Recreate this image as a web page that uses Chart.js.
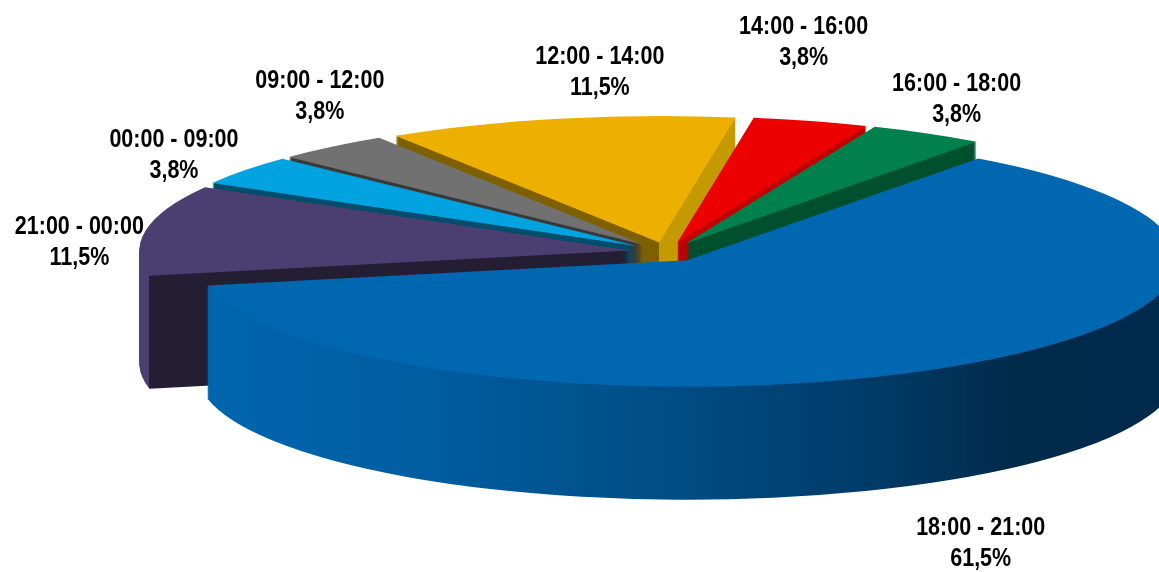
<!DOCTYPE html>
<html>
<head>
<meta charset="utf-8">
<title>Horários</title>
<script src="https://cdn.jsdelivr.net/npm/chart.js@4"></script>
<style>
  html, body { margin: 0; padding: 0; background: #fff; overflow: hidden; }
  canvas { display: block; }
</style>
</head>
<body>
<canvas id="pie" width="1159" height="572"></canvas>
<script>
const categories = ['00:00 - 09:00', '09:00 - 12:00', '12:00 - 14:00', '14:00 - 16:00', '16:00 - 18:00', '18:00 - 21:00', '21:00 - 00:00'];
const shares = [3.8, 3.8, 11.5, 3.8, 3.8, 61.5, 11.5];
const topColors = ['#00A2E0', '#717171', '#EDB000', '#EC0000', '#00804C', '#0067B0', '#4A3F70'];
// side faces: left of the break, right of the break
const sideColors = [['#034E6C', '#034E6C'], ['#3A3A3A', '#3A3A3A'], ['#7F6000', '#C49A00'], ['#C00000', '#C00000'], ['#00502F', '#00502F'], null, ['#4A3F70', '#231E33']];
const blueSideStops = [[210, '#0065AD'], [420, '#005C9E'], [650, '#004D85'], [860, '#003A66'], [1000, '#002A4A'], [1159, '#002A4C']];
const sideBreak = [null, null, 'apex', null, null, null, 'start'];
const paintOrder = [2, 1, 0, 6, 3, 4, 5];
const labelNudges = [[-101, -21], [-36, -58], [33, -56], [3, -88], [48, -42], [50, 185], [-104, 11]];

const squash = 0.258;
const depth = 113;
const explode = 38;

function sideFill(ctx, arc, i) {
  if (i === 5) {
    const g = ctx.createLinearGradient(0, 0, 1159, 0);
    blueSideStops.forEach(s => g.addColorStop(s[0] / 1159, s[1]));
    return g;
  }
  const [left, right] = sideColors[i];
  if (!sideBreak[i]) return left;
  const x = sideBreak[i] === 'apex' ? arc.x : arc.x + Math.cos(arc.startAngle) * arc.outerRadius;
  const g = ctx.createLinearGradient(0, 0, 1159, 0);
  const t = x / 1159;
  g.addColorStop(0, left);
  g.addColorStop(t, left);
  g.addColorStop(t, right);
  g.addColorStop(1, right);
  return g;
}

const tiltedPie = {
  id: 'tiltedPie',
  beforeDatasetsDraw(chart) {
    const ctx = chart.ctx;
    const arcs = chart.getDatasetMeta(0).data;

    const paint = (arc, fill, dy) => {
      const mid = (arc.startAngle + arc.endAngle) / 2;
      const ghost = Object.create(arc);
      ghost.options = Object.assign({}, arc.options, { backgroundColor: fill, borderWidth: 0 });
      ctx.save();
      ctx.translate(0, arc.y + dy);
      ctx.scale(1, squash);
      ctx.translate(0, -arc.y);
      ctx.translate(Math.cos(mid) * explode, Math.sin(mid) * explode);
      ghost.draw(ctx);
      ctx.restore();
    };

    paintOrder.forEach(i => {
      const arc = arcs[i];
      const fill = sideFill(ctx, arc, i);
      for (let d = depth; d > 0; d--) paint(arc, fill, d);
      paint(arc, topColors[i], 0);
    });

    // labels sit off the rim of each slice, narrowed like the original type
    ctx.font = 'bold 25px "Liberation Sans", Arial, sans-serif';
    ctx.fillStyle = '#000';
    ctx.textAlign = 'center';
    ctx.textBaseline = 'middle';
    arcs.forEach((arc, i) => {
      const mid = (arc.startAngle + arc.endAngle) / 2;
      const x = arc.x + Math.cos(mid) * arc.outerRadius + labelNudges[i][0];
      const y = arc.y + Math.sin(mid) * arc.outerRadius * squash + labelNudges[i][1];
      ctx.save();
      ctx.translate(x, y);
      ctx.scale(0.86, 1);
      ctx.fillText(categories[i], 0, -15.5);
      ctx.fillText(shares[i].toFixed(1).replace('.', ',') + '%', 0, 15.5);
      ctx.restore();
    });
    return false;
  }
};

new Chart(document.getElementById('pie'), {
  type: 'pie',
  data: {
    labels: categories,
    datasets: [{ data: shares, backgroundColor: topColors, borderWidth: 0 }]
  },
  options: {
    responsive: false,
    animation: false,
    rotation: -60,
    radius: 490,
    layout: { padding: { left: 175, bottom: 68 } },
    plugins: { legend: { display: false }, tooltip: { enabled: false } }
  },
  plugins: [tiltedPie]
});
</script>
</body>
</html>
